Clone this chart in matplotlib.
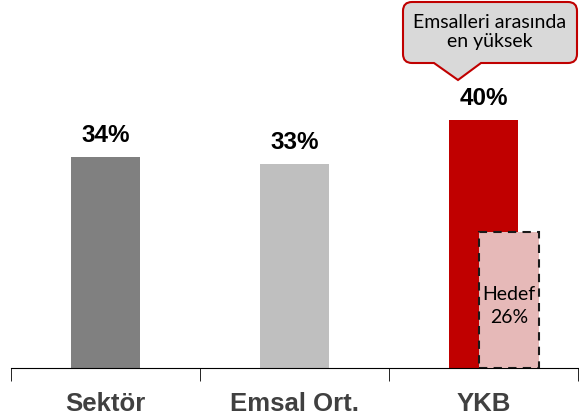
import matplotlib.pyplot as plt
from matplotlib.path import Path
from matplotlib.patches import PathPatch

categories = ['Sektör', 'Emsal Ort.', 'YKB']
values = [34, 33, 40]
value_labels = ['34%', '33%', '40%']
colors = ['#808080', '#bfbfbf', '#c00000']

target_label = 'Hedef\n26%'
target_drawn = 22  # box height as drawn in the picture

fig = plt.figure(figsize=(5.79, 4.16), dpi=100)
ax = fig.add_axes([11 / 579, 48 / 416, 567 / 579, 368 / 416])

x = range(len(categories))
ax.bar(x, values, width=0.36, color=colors, zorder=2)
for i, v in enumerate(values):
    ax.text(i, v + 2.4, value_labels[i], ha='center', va='baseline',
            fontsize=17.5, fontweight='bold', family='Liberation Sans')

# target box next to YKB bar
ax.bar(2.135, target_drawn, width=0.32, color='#e6b9b8', edgecolor='#1a1a1a',
       linestyle=(0, (4, 3)), linewidth=1.5, zorder=3)
ax.text(2.135, 10, target_label, ha='center', va='center', fontsize=14,
        family='Lato', linespacing=1.4, zorder=4)

ax.set_xlim(-0.5, 2.5)
ax.set_ylim(0, 59.4)
for s in ['top', 'right', 'left']:
    ax.spines[s].set_visible(False)
ax.spines['bottom'].set_color('#000000')
ax.set_yticks([])
ax.set_xticks(list(x))
ax.set_xticklabels(categories, fontsize=18.5, fontweight='bold', color='#404040',
                   family='Liberation Sans')
ax.tick_params(axis='x', which='major', length=0, pad=17)
ax.set_xticks([-0.5, 0.5, 1.5, 2.5], minor=True)
ax.tick_params(axis='x', which='minor', length=9, color='#000000')

# callout bubble (pixel coords, y downward)
W, H = 579, 416
x0, x1, y0, y1, r = 403, 577, 2, 63, 9
bx0, bx1, tx, ty = 434, 481, 458, 80
pts = [
    (x0 + r, y0), (x1 - r, y0), (x1, y0), (x1, y0 + r),
    (x1, y1 - r), (x1, y1), (x1 - r, y1),
    (bx1, y1), (tx, ty), (bx0, y1),
    (x0 + r, y1), (x0, y1), (x0, y1 - r),
    (x0, y0 + r), (x0, y0), (x0 + r, y0), (x0 + r, y0),
]
codes = [Path.MOVETO, Path.LINETO, Path.CURVE3, Path.CURVE3,
         Path.LINETO, Path.CURVE3, Path.CURVE3,
         Path.LINETO, Path.LINETO, Path.LINETO,
         Path.LINETO, Path.CURVE3, Path.CURVE3,
         Path.LINETO, Path.CURVE3, Path.CURVE3, Path.CLOSEPOLY]
verts = [(px / W, 1 - py / H) for px, py in pts]
fig.patches.append(PathPatch(Path(verts, codes), facecolor='#d9d9d9',
                             edgecolor='#c00000', linewidth=1.5,
                             transform=fig.transFigure))
fig.text(490 / W, 1 - 32 / H, 'Emsalleri arasında\nen yüksek', ha='center',
         va='center', fontsize=14, family='Lato', linespacing=1.2)

plt.savefig('out.png')
